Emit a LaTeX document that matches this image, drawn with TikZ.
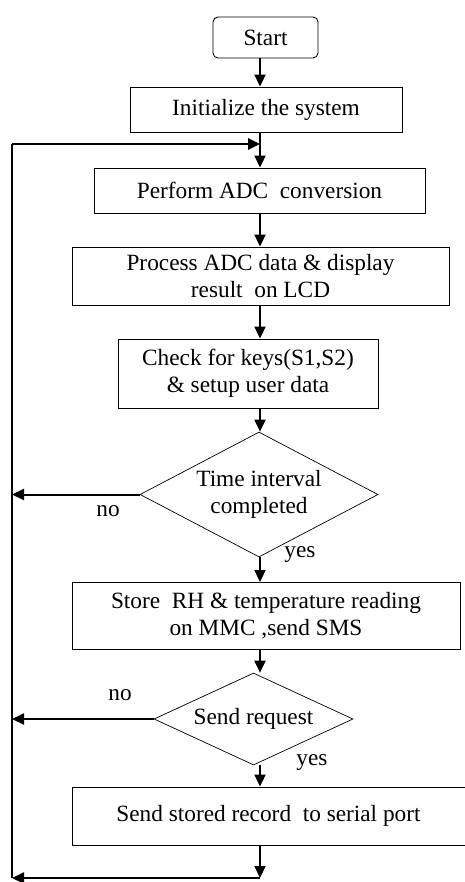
\documentclass[tikz,border=0pt]{standalone}
\usepackage{fontspec}
\setmainfont{Liberation Serif}
\usetikzlibrary{shapes.geometric,arrows.meta}

\begin{document}
\begin{tikzpicture}[x=1pt,y=-1pt]
			\tikzset{
				box/.style={draw, line width=0.9pt, align=center, inner sep=0pt,
					font=\fontsize{23.3}{27}\selectfont},
				dec/.style={diamond, draw, line width=0.7pt, align=center, inner sep=0pt,
					font=\fontsize{23.3}{27}\selectfont},
				flow/.style={line width=2pt, -{Triangle[length=12pt,width=11pt]}},
				wire/.style={line width=1.6pt},
				lbl/.style={font=\fontsize{23.3}{27}\selectfont}
			}
			\useasboundingbox (0,0) rectangle (465,882);

			\node[box, rounded corners=5pt, minimum width=105pt, minimum height=41pt] (start) at (265.5,37.5){Start};
			\node[box, minimum width=272pt, minimum height=45pt] (init) at (266,109.5){Initialize the system};
			\node[box, minimum width=331pt, minimum height=45pt] (adc) at (259.5,190.5){Perform ADC\ \ conversion};
			\node[box, minimum width=377pt, minimum height=58pt] (lcd) at (260.5,276){Process ADC data \& display\\result\ \ on LCD};
			\node[box, minimum width=260pt, minimum height=69pt] (keys) at (248,373.5){Check for keys(S1,S2)\\\& setup user data};
			\node[dec, aspect=1.9, minimum width=238pt, minimum height=125pt] (dec1) at (259,494.5){Time interval\\completed};
			\node[box, minimum width=388pt, minimum height=67pt] (store) at (266,616){Store\ \ RH \& temperature reading\\on MMC ,send SMS};
			\node[dec, aspect=2.16, minimum width=199pt, minimum height=92pt] (dec2) at (253.5,719){Send request};
			\node[box, minimum width=393pt, minimum height=58pt] (serial) at (268.5,816){Send stored record\ \ to serial port};

			\node[lbl] (no1) at (108,511){no};
			\node[lbl] (yes1) at (300,555){yes};
			\node[lbl] (no2) at (120,695){no};
			\node[lbl] (yes2) at (312,763){yes};

			\coordinate (spine) at (260,0);
			\coordinate (ltop) at (12,144);
			\coordinate (lbot) at (12,878);

			\draw[flow] (spine |- start.south) -- (spine |- init.north);
			\draw[flow] (spine |- init.south) -- (spine |- adc.north);
			\draw[flow] (spine |- adc.south) -- (spine |- lcd.north);
			\draw[flow] (spine |- lcd.south) -- (spine |- keys.north);
			\draw[flow] (spine |- keys.south) -- (spine |- dec1.north);
			\draw[flow] (spine |- dec1.south) -- (spine |- store.north);
			\draw[flow] (spine |- store.south) -- (spine |- dec2.north);
			\draw[flow] (spine |- dec2.south) -- (spine |- serial.north);
			\draw[flow] (spine |- serial.south) -- (spine |- lbot);

			\draw[flow] (dec1.west) -- (dec1.west -| ltop);
			\draw[flow] (dec2.west) -- (dec2.west -| ltop);
			\draw[flow] (spine |- lbot) -- (lbot);
			\draw[wire] (lbot) -- (ltop);
			\draw[flow, line width=2.6pt] (ltop) -- (spine |- ltop);
		\end{tikzpicture}
\end{document}
